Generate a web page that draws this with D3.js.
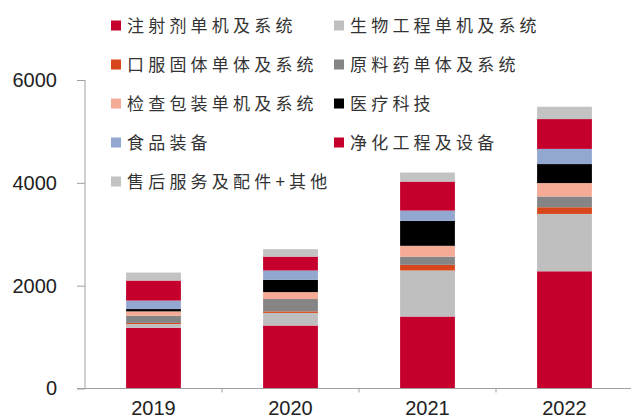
<!DOCTYPE html>
<html>
<head>
<meta charset="utf-8">
<script src="https://cdn.jsdelivr.net/npm/d3@7"></script>
<style>
  html, body { margin: 0; padding: 0; background: #fff; }
  svg { display: block; }
</style>
</head>
<body>
<svg id="chart" width="631" height="420"></svg>
<script>
// Years on the x axis
const years = ["2019", "2020", "2021", "2022"];

// Stack segments, bottom to top
const seriesNames = [
  "注射剂单机及系统",
  "生物工程单机及系统",
  "口服固体单体及系统",
  "原料药单体及系统",
  "检查包装单机及系统",
  "医疗科技",
  "食品装备",
  "净化工程及设备",
  "售后服务及配件+其他"
];
const seriesColors = [
  "#C5002D", "#BFBFBF", "#D8461B", "#858585", "#F6AB97",
  "#000000", "#93A8D0", "#C5002D", "#C3C3C3"
];

// Values per segment, one entry per year
const injection   = [1180, 1225, 1400, 2280];
const bioEng      = [  75,  245,  895, 1115];
const oralSolid   = [  20,   30,  110,  130];
const api         = [ 140,  240,  160,  210];
const inspection  = [  85,  135,  210,  260];
const medTech     = [  45,  240,  485,  370];
const foodEquip   = [ 165,  180,  200,  295];
const cleanroom   = [ 390,  270,  565,  580];
const afterSales  = [ 155,  145,  175,  240];

const seriesValues = [injection, bioEng, oralSolid, api, inspection,
                      medTech, foodEquip, cleanroom, afterSales];

const yTicks = [0, 2000, 4000, 6000];

const rows = years.map((yr, i) => {
  const r = { year: yr };
  seriesNames.forEach((n, s) => { r[n] = seriesValues[s][i]; });
  return r;
});

const svg = d3.select("#chart");

const x = d3.scaleBand().domain(years).range([85, 633]).paddingInner(0.6).paddingOuter(0.3);
const y = d3.scaleLinear().domain([0, 6000]).range([388.5, 80]);

const stack = d3.stack().keys(seriesNames)(rows);

// Bars
svg.append("g")
  .selectAll("g")
  .data(stack)
  .join("g")
  .attr("fill", (d, i) => seriesColors[i])
  .selectAll("rect")
  .data(d => d)
  .join("rect")
  .attr("x", d => x(d.data.year))
  .attr("width", x.bandwidth())
  .attr("y", d => y(d[1]))
  .attr("height", d => y(d[0]) - y(d[1]));

// Y axis
const yAxis = svg.append("g")
  .attr("transform", "translate(85,0)")
  .call(d3.axisLeft(y).tickValues(yTicks).tickSize(8).tickPadding(20).tickFormat(d3.format("d")));
yAxis.select(".domain").attr("stroke", "#a0a0a0").attr("d", `M0,${y(6000)}V${y(0)}`);
yAxis.selectAll(".tick line").attr("stroke", "#a0a0a0");
yAxis.selectAll(".tick text")
  .attr("fill", "#222")
  .style("font-family", "'Liberation Sans', Arial, sans-serif")
  .style("font-size", "20px");

// X axis with ticks at category boundaries
const step = x.step();
const bounds = years.map(yr => x(yr) + x.bandwidth() / 2 + step / 2);
const xAxis = svg.append("g").attr("transform", `translate(0,${y(0)})`);
xAxis.append("line")
  .attr("x1", 77).attr("x2", 631).attr("y1", 0).attr("y2", 0)
  .attr("stroke", "#a0a0a0");
xAxis.selectAll(".bt")
  .data(bounds)
  .join("line")
  .attr("class", "bt")
  .attr("x1", d => d).attr("x2", d => d)
  .attr("y1", 0).attr("y2", 4)
  .attr("stroke", "#a0a0a0");
xAxis.selectAll(".yl")
  .data(years)
  .join("text")
  .attr("class", "yl")
  .attr("x", d => x(d) + x.bandwidth() / 2)
  .attr("y", 26.5)
  .attr("text-anchor", "middle")
  .attr("fill", "#222")
  .style("font-family", "'Liberation Sans', Arial, sans-serif")
  .style("font-size", "20px")
  .text(d => d);

// Legend: two columns, filled row by row
const legendCols = [111, 334];
const legendRows = [25.5, 64.5, 103.5, 142.5, 181.5];
const legend = svg.append("g");
seriesNames.forEach((name, i) => {
  const cx = legendCols[i % 2];
  const cy = legendRows[Math.floor(i / 2)];
  legend.append("rect")
    .attr("x", cx).attr("y", cy - 5)
    .attr("width", 10).attr("height", 10)
    .attr("fill", seriesColors[i]);
  legend.append("text")
    .attr("x", cx + 16).attr("y", cy)
    .attr("dy", "0.36em")
    .attr("fill", "#333")
    .style("font-family", "'Noto Sans CJK SC', sans-serif")
    .style("font-size", "17px")
    .style("letter-spacing", "4.2px")
    .text(name);
});
</script>
</body>
</html>
